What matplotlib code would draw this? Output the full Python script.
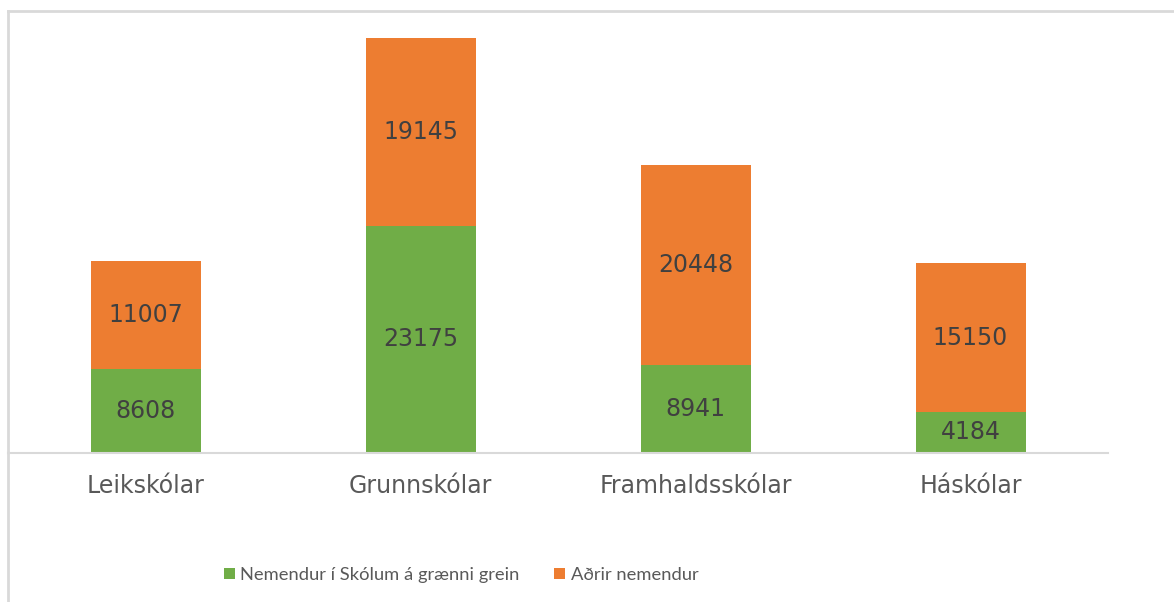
import numpy as np
import matplotlib.pyplot as plt
from matplotlib.lines import Line2D

categories = ["Leikskólar", "Grunnskólar", "Framhaldsskólar", "Háskólar"]
green_vals = [8608, 23175, 8941, 4184]
orange_vals = [11007, 19145, 20448, 15150]
series_names = ["Nemendur í Skólum á grænni grein", "Aðrir nemendur"]

green = "#70AD47"
orange = "#ED7D31"

fig = plt.figure(figsize=(11.74, 6.02), dpi=100)
ax = fig.add_axes([8 / 1174, 149 / 602, 1100 / 1174, 433 / 602])

x = np.arange(len(categories))
b1 = ax.bar(x, green_vals, width=0.4, color=green, label=series_names[0])
b2 = ax.bar(x, orange_vals, width=0.4, bottom=green_vals, color=orange, label=series_names[1])

for bars, vals in [(b1, green_vals), (b2, orange_vals)]:
    for rect, v in zip(bars, vals):
        ax.text(rect.get_x() + rect.get_width() / 2, rect.get_y() + rect.get_height() / 2, str(v),
                ha="center", va="center", fontsize=17, color="#404040", family="DejaVu Sans")

ax.set_xlim(-0.5, 3.5)
ax.set_ylim(0, 44140)
ax.set_xticks(x)
ax.set_xticklabels(categories, fontsize=17, color="#595959", family="DejaVu Sans")
ax.tick_params(axis="x", length=0, pad=15)
ax.set_yticks([])
for s in ["top", "left", "right"]:
    ax.spines[s].set_visible(False)
ax.spines["bottom"].set_color("#D9D9D9")
ax.spines["bottom"].set_linewidth(1.5)

# outer chart border (top and left visible)
fig.add_artist(Line2D([8 / 1174, 1], [1 - 11 / 602, 1 - 11 / 602], color="#D9D9D9", lw=2))
fig.add_artist(Line2D([8 / 1174, 8 / 1174], [0, 1 - 11 / 602], color="#D9D9D9", lw=2))

fig.legend(handles=[b1, b2], loc="center", bbox_to_anchor=(461 / 1174, 1 - 575 / 602),
           ncol=2, frameon=False, prop={"family": "Lato", "size": 13.2},
           handlelength=0.6, handleheight=0.6, handletextpad=0.3, columnspacing=1.9,
           labelcolor="#595959")

fig.savefig("out.png", dpi=100, facecolor="white")
